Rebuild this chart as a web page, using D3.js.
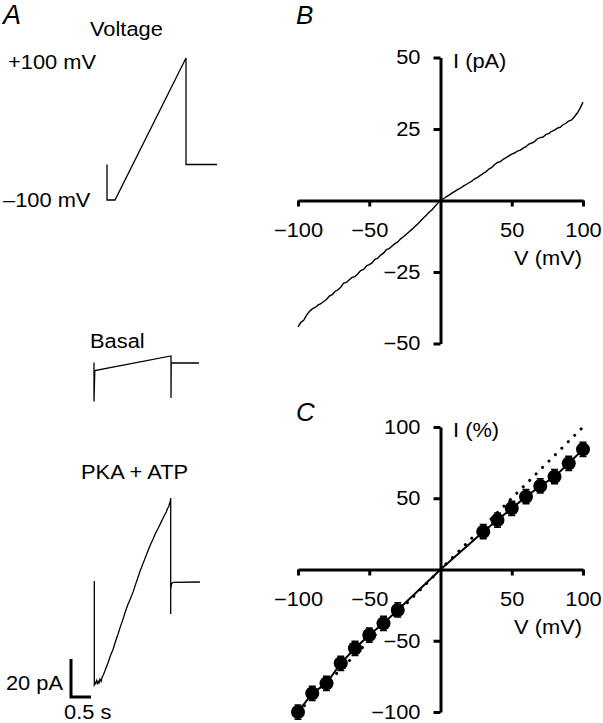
<!DOCTYPE html>
<html><head><meta charset="utf-8">
<script src="https://cdn.jsdelivr.net/npm/d3@7/dist/d3.min.js"></script>
<style>
html,body{margin:0;padding:0;background:#fff;}
svg{display:block;}
</style></head>
<body>
<script>
// ---------- DATA ----------
// Panel A: voltage protocol (time s, mV)
const voltTime = [0, 0, 0.2, 1.975, 1.975, 2.75];
const voltMV   = [-50, -100, -100, 100, -50, -50];
// Panel A: Basal current (time s, pA relative to holding)
const basalTime = [0, 0, 0.02, 1.925, 1.925, 1.93, 2.625];
const basalPA   = [0.3, -20.2, -4.0, 3.7, -18.4, 0, 0];
// Panel A: PKA + ATP current
const pkaTime = [0,0,0.03,0.06,0.08,0.1,0.12,0.14,0.17,0.19,0.22,0.255,0.3,0.34,0.4,0.47,0.53,0.59,0.65,0.72,0.78,0.84,0.9,0.97,1.03,1.09,1.15,1.22,1.28,1.34,1.40,1.47,1.53,1.59,1.65,1.72,1.76,1.80,1.83,1.86,1.88,1.90,1.91,1.91,1.91,1.93,1.97,2.64];
const pkaPA   = [0.5,-54.2,-53.2,-51.8,-53.9,-52.4,-53.1,-51.2,-52.3,-50.4,-49.2,-47.4,-44.9,-42.8,-39.0,-35.4,-31.3,-27.6,-23.6,-19.4,-15.4,-11.8,-8.9,-5.2,-1.4,2.4,6.0,9.8,13.1,16.3,19.5,22.6,25.6,28.0,30.6,33.7,35.4,36.8,38.7,39.6,41.3,42.5,44.2,-16.8,-4.0,-1.0,-0.2,0];
// Panel B: I-V trace (mV, pA)
const ivV = d3.range(-100, 101, 2);
const ivI = [-44.2,-42.6,-41.9,-40.1,-38.8,-37.9,-37.4,-36.6,-36.1,-35.3,-34.6,-33.4,-32.9,-31.8,-31.2,-30.3,-28.9,-28.6,-27.7,-26.9,-26.6,-25.6,-24.5,-24.1,-22.9,-22.4,-21.8,-20.6,-20.2,-19.1,-18.4,-17.2,-16.8,-15.9,-15.1,-14.5,-13.4,-12.7,-11.8,-10.9,-10.1,-9.1,-8.2,-7.2,-6.1,-5.2,-4.1,-3.2,-2.1,-1.0,0,0.6,1.3,1.9,2.6,3.2,3.8,4.3,5.0,5.6,6.2,6.8,7.6,8.1,8.8,9.5,10.1,11.0,11.6,12.6,13.3,13.6,14.4,15.0,15.6,16.2,16.6,17.3,17.6,18.3,18.8,19.7,20.1,20.6,21.6,22.0,22.2,23.1,23.4,24.2,24.6,25.3,25.6,26.5,27.0,27.8,28.2,29.3,30.6,32.3,34.4];
// Panel C: normalised I-V (mV, %)
const cV   = [-100,-90,-80,-70,-60,-50,-40,-30,30,40,50,60,70,80,90,100];
const cI   = [-100,-86.9,-79.9,-65.8,-55.3,-46,-37.8,-28.4,26.5,34.7,42.9,51.1,58.6,65.1,74.5,84.3];
const cErr = [5,5,5,5,5,5,5,5,5,5,5,5,5,5,5,5];
const refV = [-100, 100];
const refI = [-100, 100];
// Tick values
const bXTicks = [-100,-50,50,100];
const bYTicks = [-50,-25,25,50];
const cXTicks = [-100,-50,50,100];
const cYTicks = [-100,-50,50,100];

// ---------- SETUP ----------
const W = 603, H = 723;
const FONT = "'Liberation Sans', Arial, Helvetica, sans-serif";
const FS = 19.5;
const STRETCH = 1.12;
const svg = d3.select("body").append("svg").attr("width", W).attr("height", H)
  .style("font-family", FONT);
svg.append("rect").attr("width", W).attr("height", H).attr("fill", "#fff");

function stretch(sel){
  sel.each(function(){
    const w = this.getComputedTextLength();
    d3.select(this).attr("textLength", w*STRETCH).attr("lengthAdjust","spacingAndGlyphs");
  });
}
function label(x, y, txt, anchor="start", size=FS, italic=false, doStretch=true){
  const t = svg.append("text").attr("x", x).attr("y", y).attr("text-anchor", anchor)
    .attr("font-size", size).attr("fill", "#000")
    .attr("font-style", italic ? "italic" : "normal").text(txt);
  if (doStretch) stretch(t);
  return t;
}

// ---------- PANEL A ----------
label(3, 24, "A", "start", 27, true, false);
label(90, 36, "Voltage");
label(8, 69, "+100 mV");
label(3, 207, "\u2013100 mV");
label(90, 348, "Basal");
label(81, 479, "PKA + ATP");
label(63, 690, "20 pA", "end");
label(64, 719, "0.5 s");

const tVolt = d3.scaleLinear([0, 1], [107, 147]);
const yVolt = d3.scaleLinear([-100, 100], [200, 58]);
const tCur  = d3.scaleLinear([0, 1], [94.3, 134.3]);
const yBasal = d3.scaleLinear([0, 20], [363, 325]);
const yPKA   = d3.scaleLinear([0, 20], [582, 544]);

svg.append("path")
  .attr("d", d3.line()(voltTime.map((t,i)=>[tVolt(t), yVolt(voltMV[i])])))
  .attr("fill","none").attr("stroke","#000").attr("stroke-width",1.3);
svg.append("path")
  .attr("d", d3.line()(basalTime.map((t,i)=>[tCur(t)-0.3, yBasal(basalPA[i])])))
  .attr("fill","none").attr("stroke","#000").attr("stroke-width",1.3);
svg.append("path")
  .attr("d", d3.line()(pkaTime.map((t,i)=>[tCur(t), yPKA(pkaPA[i])])))
  .attr("fill","none").attr("stroke","#000").attr("stroke-width",1.3);

// scale bar: 20 pA, 0.5 s
const sbX = 71, sbY = 697;
const sbW = tCur(0.5) - tCur(0), sbH = yPKA(0) - yPKA(20);
svg.append("path")
  .attr("d", `M${sbX},${sbY - sbH}V${sbY}H${sbX + sbW}`)
  .attr("fill","none").attr("stroke","#000").attr("stroke-width",3);

// ---------- axis helper ----------
function drawAxes(xS, yS, xTicks, yTicks, yLab){
  const gx = svg.append("g").attr("transform", `translate(0,${yS(0)})`)
    .call(d3.axisBottom(xS).tickValues(xTicks).tickSizeInner(6).tickSizeOuter(0));
  gx.selectAll("text").attr("y", 36).attr("dy", null);
  const gy = svg.append("g").attr("transform", `translate(${xS(0)},0)`)
    .call(d3.axisLeft(yS).tickValues(yTicks).tickSizeInner(7).tickSizeOuter(0).tickPadding(13));
  [gx, gy].forEach(g => {
    g.select(".domain").attr("stroke","#000").attr("stroke-width",3);
    g.selectAll(".tick line").attr("stroke","#000").attr("stroke-width",3);
    g.selectAll("text").attr("font-size", FS).attr("font-family", FONT).attr("fill","#000");
    stretch(g.selectAll("text"));
  });
  label(xS(0) + 12.5, yS(yS.domain()[1]) + 10, yLab);
  label(582, yS(0) + 64, "V (mV)", "end");
}

// ---------- PANEL B ----------
label(296, 24, "B", "start", 26, true, false);
const xB = d3.scaleLinear([-100, 100], [298, 583]);
const yB = d3.scaleLinear([-50, 50], [343.5, 57.5]);
drawAxes(xB, yB, bXTicks, bYTicks, "I (pA)");
svg.append("path")
  .attr("d", d3.line()(ivV.map((v,i)=>[xB(v), yB(ivI[i])])))
  .attr("fill","none").attr("stroke","#000").attr("stroke-width",1.4);

// ---------- PANEL C ----------
label(296, 421, "C", "start", 26, true, false);
const xC = d3.scaleLinear([-100, 100], [298, 583]);
const yC = d3.scaleLinear([-100, 100], [712, 427]);
drawAxes(xC, yC, cXTicks, cYTicks, "I (%)");

// dotted reference line
svg.append("path")
  .attr("d", d3.line()(refV.map((v,i)=>[xC(v), yC(refI[i])])))
  .attr("fill","none").attr("stroke","#000").attr("stroke-width",3)
  .attr("stroke-linecap","round").attr("stroke-dasharray","0.1,9");
// solid line through data
const solidPts = cV.map((v,i)=>({v, i:cI[i]}));
solidPts.splice(8, 0, {v:0, i:0});
svg.append("path")
  .attr("d", d3.line().x(d=>xC(d.v)).y(d=>yC(d.i))(solidPts))
  .attr("fill","none").attr("stroke","#000").attr("stroke-width",2);
// error bars
const eb = svg.append("g").attr("stroke","#000").attr("stroke-width",1.5);
cV.forEach((v,i)=>{
  const x = xC(v), y1 = yC(cI[i]-cErr[i]), y2 = yC(cI[i]+cErr[i]);
  eb.append("path").attr("d", `M${x},${y1}V${y2}M${x-3.5},${y1}H${x+3.5}M${x-3.5},${y2}H${x+3.5}`);
});
// points
svg.append("g").selectAll("circle").data(cV).join("circle")
  .attr("cx", v=>xC(v)).attr("cy", (v,i)=>yC(cI[i])).attr("r", 7).attr("fill","#000");
</script>
</body></html>
